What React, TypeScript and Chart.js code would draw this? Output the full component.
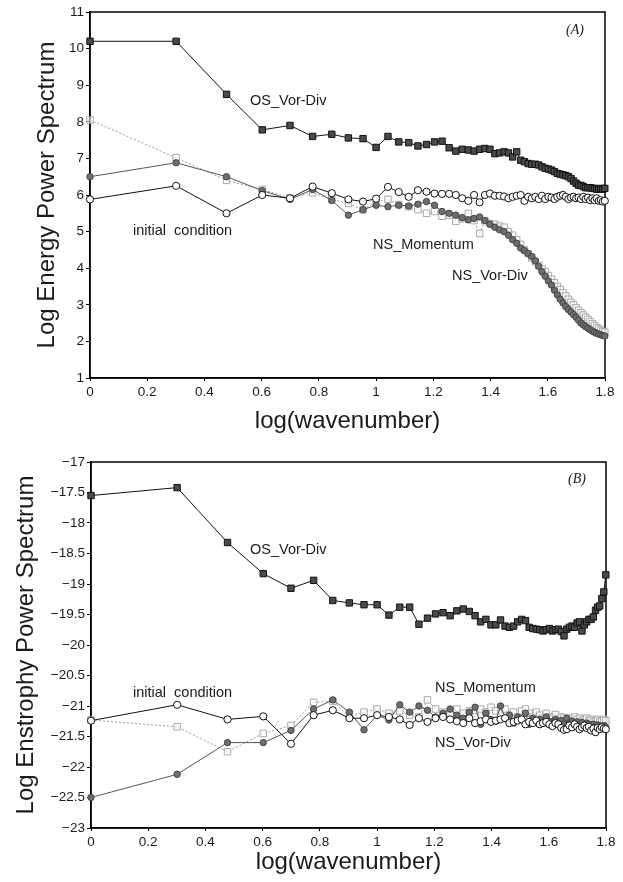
import React, { useEffect, useRef } from 'react';
import { Chart, registerables } from 'chart.js';

Chart.register(...registerables);

// ---------- data ----------
const wavenumbers = [
  1, 2, 3, 4, 5, 6, 7, 8, 9, 10,
  11, 12, 13, 14, 15, 16, 17, 18, 19, 20,
  21, 22, 23, 24, 25, 26, 27, 28, 29, 30,
  31, 32, 33, 34, 35, 36, 37, 38, 39, 40,
  41, 42, 43, 44, 45, 46, 47, 48, 49, 50,
  51, 52, 53, 54, 55, 56, 57, 58, 59, 60,
  61, 62, 63,
];

const xTicks = [0, 0.2, 0.4, 0.6, 0.8, 1, 1.2, 1.4, 1.6, 1.8];
const xTickLabels = ['0', '0.2', '0.4', '0.6', '0.8', '1', '1.2', '1.4', '1.6', '1.8'];

const energyTicks = [1, 2, 3, 4, 5, 6, 7, 8, 9, 10, 11];
const energyTickLabels = ['1', '2', '3', '4', '5', '6', '7', '8', '9', '10', '11'];

const enstrophyTicks = [-23, -22.5, -22, -21.5, -21, -20.5, -20, -19.5, -19, -18.5, -18, -17.5, -17];
const enstrophyTickLabels = ['\u221223', '\u221222.5', '\u221222', '\u221221.5', '\u221221', '\u221220.5', '\u221220', '\u221219.5', '\u221219', '\u221218.5', '\u221218', '\u221217.5', '\u221217'];

// (A) Log Energy Power Spectrum
const energyOS = [
  10.2, 10.2, 8.75, 7.78, 7.9, 7.6, 7.66, 7.56, 7.54, 7.3,
  7.6, 7.45, 7.43, 7.34, 7.38, 7.45, 7.47, 7.29, 7.2, 7.25,
  7.23, 7.2, 7.25, 7.27, 7.25, 7.13, 7.15, 7.18, 7.15, 7.04,
  7.18, 6.95, 6.91, 6.86, 6.84, 6.84, 6.82, 6.77, 6.73, 6.71,
  6.68, 6.64, 6.59, 6.57, 6.55, 6.53, 6.5, 6.45, 6.38, 6.32,
  6.27, 6.26, 6.23, 6.2, 6.2, 6.2, 6.18, 6.18, 6.16, 6.16,
  6.18, 6.16, 6.18,
];
const energyInitial = [
  5.88, 6.25, 5.5, 6.0, 5.91, 6.23, 6.05, 5.88, 5.82, 5.9,
  6.22, 6.08, 5.95, 6.13, 6.09, 6.04, 6.03, 6.03, 6.0, 5.91,
  5.84, 6.0, 5.8, 6.0, 6.04, 5.98, 5.98, 5.96, 5.91, 5.95,
  5.98, 6.0, 5.84, 5.95, 5.91, 5.95, 5.89, 5.98, 5.89, 5.95,
  5.93, 5.89, 5.95, 5.98, 6.0, 5.95, 5.89, 5.93, 5.95, 5.91,
  5.93, 5.89, 5.95, 5.89, 5.93, 5.86, 5.91, 5.86, 5.91, 5.84,
  5.86, 5.82, 5.84,
];
const energyNSMomentum = [
  6.5, 6.88, 6.5, 6.12, 5.88, 6.15, 5.85, 5.45, 5.6, 5.72,
  5.68, 5.72, 5.7, 5.75, 5.82, 5.72, 5.55, 5.5, 5.45, 5.38,
  5.32, 5.36, 5.4, 5.3, 5.2, 5.12, 5.05, 5.0, 4.9, 4.78,
  4.68, 4.55, 4.48, 4.4, 4.32, 4.2, 4.05, 3.9, 3.78, 3.65,
  3.54, 3.4, 3.27, 3.15, 3.05, 2.95, 2.87, 2.8, 2.73, 2.66,
  2.58, 2.5, 2.45, 2.4, 2.36, 2.32, 2.28, 2.25, 2.22, 2.2,
  2.18, 2.16, 2.15,
];
const energyNSVorDiv = [
  8.05, 7.02, 6.4, 6.15, 5.92, 6.06, 5.88, 5.77, 5.59, 5.82,
  5.88, 5.74, 5.68, 5.6, 5.5, 5.55, 5.42, 5.45, 5.28, 5.35,
  5.5, 5.3, 4.95, 5.3, 5.22, 5.2, 5.15, 5.12, 5.0, 4.9,
  4.78, 4.65, 4.5, 4.4, 4.28, 4.18, 4.08, 3.98, 3.9, 3.8,
  3.7, 3.6, 3.5, 3.42, 3.33, 3.24, 3.15, 3.07, 3.0, 2.92,
  2.85, 2.78, 2.72, 2.66, 2.6, 2.54, 2.48, 2.43, 2.38, 2.34,
  2.3, 2.27, 2.25,
];

// (B) Log Enstrophy Power Spectrum
const enstrophyOS = [
  -17.55, -17.42, -18.32, -18.83, -19.07, -18.94, -19.27, -19.31, -19.34, -19.34,
  -19.51, -19.38, -19.38, -19.66, -19.56, -19.49, -19.47, -19.52, -19.44, -19.41,
  -19.45, -19.52, -19.62, -19.58, -19.67, -19.67, -19.59, -19.69, -19.71, -19.69,
  -19.62, -19.58, -19.6, -19.71, -19.73, -19.74, -19.75, -19.77, -19.75, -19.73,
  -19.77, -19.75, -19.74, -19.78, -19.85, -19.74, -19.71, -19.69, -19.71, -19.64,
  -19.62, -19.77, -19.67, -19.62, -19.58, -19.58, -19.54, -19.43, -19.38, -19.36,
  -19.24, -19.13, -18.85,
];
const enstrophyInitial = [
  -21.24, -20.98, -21.22, -21.17, -21.62, -21.15, -21.07, -21.2, -21.2, -21.15,
  -21.18, -21.22, -21.31, -21.2, -21.26, -21.2, -21.18, -21.22, -21.25, -21.28,
  -21.2, -21.28, -21.25, -21.22, -21.26, -21.24, -21.22, -21.2, -21.28, -21.26,
  -21.24, -21.22, -21.3, -21.26, -21.28, -21.24, -21.3, -21.28, -21.26, -21.3,
  -21.33, -21.28, -21.3, -21.36, -21.39, -21.38, -21.32, -21.35, -21.3, -21.34,
  -21.38, -21.35, -21.32, -21.36, -21.34, -21.4, -21.37, -21.43, -21.36, -21.38,
  -21.35, -21.37, -21.38,
];
const enstrophyNSMomentum = [
  -22.5, -22.12, -21.6, -21.6, -21.4, -21.05, -20.9, -21.1, -21.39, -21.15,
  -21.23, -20.98, -21.1, -21.0, -21.07, -21.18, -21.12, -21.05, -21.15, -21.2,
  -21.1, -21.02, -21.3, -21.12, -21.22, -21.25, -21.0, -21.2, -21.15, -21.28,
  -21.18, -21.22, -21.12, -21.3, -21.2, -21.25, -21.22, -21.28, -21.18, -21.25,
  -21.3, -21.22, -21.26, -21.24, -21.3, -21.2, -21.28, -21.25, -21.3, -21.26,
  -21.3, -21.27, -21.32, -21.28, -21.3, -21.33, -21.3, -21.34, -21.31, -21.33,
  -21.35, -21.32, -21.35,
];
const enstrophyNSVorDiv = [
  -21.23, -21.34, -21.75, -21.45, -21.32, -20.94, -20.92, -21.18, -21.1, -21.05,
  -21.12, -21.08, -21.15, -21.18, -20.9, -21.05, -21.1, -21.15, -21.05, -21.12,
  -21.08, -21.18, -21.05, -21.1, -21.02, -21.08, -21.12, -21.05, -21.15, -21.1,
  -21.18, -21.08, -21.05, -21.12, -21.18, -21.1, -21.15, -21.2, -21.12, -21.18,
  -21.2, -21.14, -21.22, -21.18, -21.2, -21.25, -21.2, -21.24, -21.18, -21.22,
  -21.2, -21.25, -21.22, -21.2, -21.24, -21.22, -21.26, -21.24, -21.22, -21.26,
  -21.24, -21.22, -21.24,
];

// ---------- styling ----------
const FONT = '"Liberation Sans", Arial, sans-serif';
const INK = '#1a1a1a';

function toPoints(values: number[]) {
  return wavenumbers.map((k, i) => ({ x: Math.log10(k), y: values[i] }));
}

function datasetsFor(os: number[], init: number[], mom: number[], vor: number[]) {
  return [
    {
      label: 'OS_Vor-Div',
      data: toPoints(os),
      borderColor: '#111',
      borderWidth: 1,
      pointStyle: 'rect',
      pointRadius: 4.5,
      pointBackgroundColor: '#4a4a4a',
      pointBorderColor: '#111',
      pointBorderWidth: 1,
      clip: false,
      order: 0,
    },
    {
      label: 'initial condition',
      data: toPoints(init),
      borderColor: '#111',
      borderWidth: 1,
      pointStyle: 'circle',
      pointRadius: 3.6,
      pointBackgroundColor: '#fff',
      pointBorderColor: '#111',
      pointBorderWidth: 1,
      clip: false,
      order: 1,
    },
    {
      label: 'NS_Momentum',
      data: toPoints(mom),
      borderColor: '#555',
      borderWidth: 1,
      pointStyle: 'circle',
      pointRadius: 3.2,
      pointBackgroundColor: '#6e6e6e',
      pointBorderColor: '#444',
      pointBorderWidth: 1,
      clip: false,
      order: 2,
    },
    {
      label: 'NS_Vor-Div',
      data: toPoints(vor),
      borderColor: '#9a9a9a',
      borderWidth: 1,
      borderDash: [2, 2],
      pointStyle: 'rect',
      pointRadius: 4.6,
      pointBackgroundColor: 'rgba(255,255,255,0.55)',
      pointBorderColor: '#a8a8a8',
      pointBorderWidth: 1,
      clip: false,
      order: 3,
    },
  ];
}

type Note = { text: string; x: number; y: number };

type PanelSpec = {
  os: number[];
  init: number[];
  mom: number[];
  vor: number[];
  yTicks: number[];
  yTickLabels: string[];
  yMin: number;
  yMax: number;
  yTitle: string;
  yTitleX: number;
  panelLabel: string;
  panelLabelX: number;
  panelLabelY: number;
  notes: Note[];
  padTop: number;
  padRight: number;
  yWidth: number;
  xHeight: number;
};

function overlayPlugin(p: PanelSpec) {
  return {
    id: 'overlay',
    beforeDatasetsDraw(chart: any) {
      const { ctx, chartArea } = chart;
      ctx.save();
      ctx.strokeStyle = '#000';
      ctx.lineWidth = 1.5;
      ctx.strokeRect(chartArea.left, chartArea.top, chartArea.right - chartArea.left, chartArea.bottom - chartArea.top);
      ctx.restore();
    },
    afterDraw(chart: any) {
      const { ctx, chartArea } = chart;
      ctx.save();
      ctx.fillStyle = INK;
      // axis titles
      ctx.font = `24px ${FONT}`;
      ctx.textAlign = 'center';
      ctx.textBaseline = 'alphabetic';
      ctx.fillText('log(wavenumber)', (chartArea.left + chartArea.right) / 2, 428);
      ctx.save();
      ctx.translate(p.yTitleX, (chartArea.top + chartArea.bottom) / 2);
      ctx.rotate(-Math.PI / 2);
      ctx.fillText(p.yTitle, 0, 0);
      ctx.restore();
      // series notes
      ctx.font = `14.5px ${FONT}`;
      ctx.textAlign = 'left';
      for (const n of p.notes) ctx.fillText(n.text, n.x, n.y);
      // panel label
      ctx.font = `italic 14px "Liberation Serif", "Times New Roman", serif`;
      ctx.fillText(p.panelLabel, p.panelLabelX, p.panelLabelY);
      ctx.restore();
    },
  };
}

function buildConfig(p: PanelSpec): any {
  const tickFont = { family: FONT, size: 13.5 };
  return {
    type: 'line',
    data: { datasets: datasetsFor(p.os, p.init, p.mom, p.vor) },
    options: {
      responsive: false,
      animation: false,
      events: [],
      layout: { padding: { top: p.padTop, right: p.padRight, left: 0, bottom: 0 } },
      plugins: {
        legend: { display: false },
        tooltip: { enabled: false },
        title: { display: false },
      },
      scales: {
        x: {
          type: 'linear',
          min: 0,
          max: 1.8,
          afterFit: (s: any) => { s.height = p.xHeight; },
          afterBuildTicks: (s: any) => { s.ticks = xTicks.map((v) => ({ value: v })); },
          ticks: {
            callback: (_v: any, i: number) => xTickLabels[i],
            font: tickFont,
            color: INK,
            padding: 3,
            maxRotation: 0,
            autoSkip: false,
          },
          grid: { drawOnChartArea: false, drawTicks: true, tickLength: 3, color: '#000', lineWidth: 1 },
          border: { display: true, color: '#000', width: 1.5 },
        },
        y: {
          type: 'linear',
          min: p.yMin,
          max: p.yMax,
          afterFit: (s: any) => { s.width = p.yWidth; },
          afterBuildTicks: (s: any) => { s.ticks = p.yTicks.map((v) => ({ value: v })); },
          ticks: {
            callback: (_v: any, i: number) => p.yTickLabels[i],
            font: tickFont,
            color: INK,
            padding: 2,
            autoSkip: false,
          },
          grid: { drawOnChartArea: false, drawTicks: true, tickLength: 4, color: '#000', lineWidth: 1 },
          border: { display: true, color: '#000', width: 1.5 },
        },
      },
    },
    plugins: [overlayPlugin(p)],
  };
}

const panelA: PanelSpec = {
  os: energyOS,
  init: energyInitial,
  mom: energyNSMomentum,
  vor: energyNSVorDiv,
  yTicks: energyTicks,
  yTickLabels: energyTickLabels,
  yMin: 1,
  yMax: 11,
  yTitle: 'Log Energy Power Spectrum',
  yTitleX: 54,
  panelLabel: '(A)',
  panelLabelX: 566,
  panelLabelY: 34,
  notes: [
    { text: 'OS_Vor-Div', x: 250, y: 104.5 },
    { text: 'initial  condition', x: 133, y: 235 },
    { text: 'NS_Momentum', x: 373, y: 248.5 },
    { text: 'NS_Vor-Div', x: 452, y: 280 },
  ],
  padTop: 12,
  padRight: 18,
  yWidth: 90,
  xHeight: 63,
};

const panelB: PanelSpec = {
  os: enstrophyOS,
  init: enstrophyInitial,
  mom: enstrophyNSMomentum,
  vor: enstrophyNSVorDiv,
  yTicks: enstrophyTicks,
  yTickLabels: enstrophyTickLabels,
  yMin: -23,
  yMax: -17,
  yTitle: 'Log Enstrophy Power Spectrum',
  yTitleX: 33,
  panelLabel: '(B)',
  panelLabelX: 568,
  panelLabelY: 42,
  notes: [
    { text: 'OS_Vor-Div', x: 250, y: 113 },
    { text: 'initial  condition', x: 133, y: 255.5 },
    { text: 'NS_Momentum', x: 435, y: 251 },
    { text: 'NS_Vor-Div', x: 435, y: 306 },
  ],
  padTop: 21,
  padRight: 17,
  yWidth: 91,
  xHeight: 54,
};

function Panel({ spec, top }: { spec: PanelSpec; top: number }) {
  const ref = useRef<HTMLCanvasElement | null>(null);
  useEffect(() => {
    if (!ref.current) return;
    const chart = new Chart(ref.current, buildConfig(spec));
    return () => chart.destroy();
  }, [spec]);
  return (
    <canvas
      ref={ref}
      width={623}
      height={441}
      style={{ position: 'absolute', left: 0, top, width: 623, height: 441, display: 'block' }}
    />
  );
}

export default function App() {
  return (
    <div style={{ position: 'absolute', left: 0, top: 0, width: 623, height: 882, background: '#fff' }}>
      <Panel spec={panelA} top={0} />
      <Panel spec={panelB} top={441} />
    </div>
  );
}
